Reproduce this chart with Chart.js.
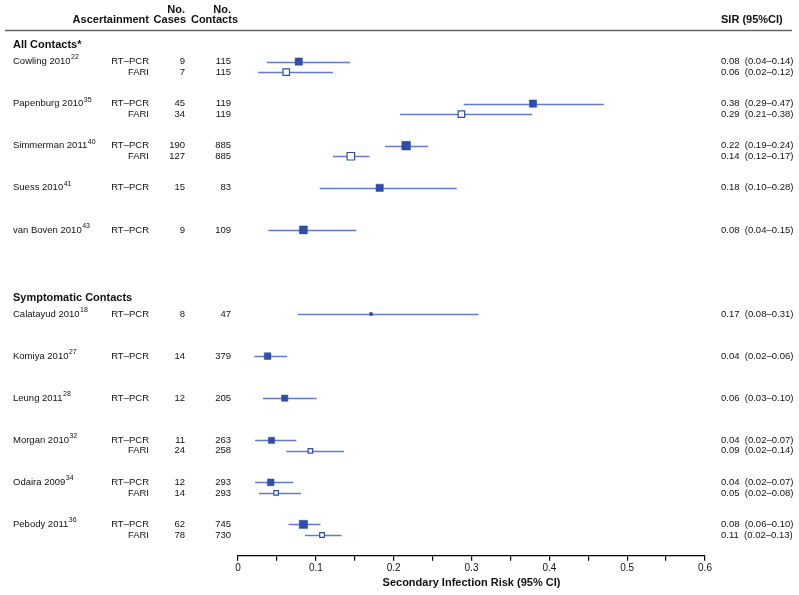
<!DOCTYPE html>
<html>
<head>
<meta charset="utf-8">
<script src="https://cdn.jsdelivr.net/npm/chart.js@4.4.1/dist/chart.umd.min.js"></script>
<style>
  body { margin: 0; background: #fff; }
</style>
</head>
<body>
<canvas id="forest" width="799" height="595"></canvas>
<script>
// Data
let studies = ['Cowling 2010', 'Papenburg 2010', 'Simmerman 2011', 'Suess 2010', 'van Boven 2010',
               'Calatayud 2010', 'Komiya 2010', 'Leung 2011', 'Morgan 2010', 'Odaira 2009', 'Pebody 2011'];
let refs = ['22', '35', '40', '41', '43', '18', '27', '28', '32', '34', '36'];
let groups = ['All Contacts*', 'Symptomatic Contacts'];
let studyGroup = [0, 0, 0, 0, 0, 1, 1, 1, 1, 1, 1];

// one entry per plotted row
let rowStudy = [0, 0, 1, 1, 2, 2, 3, 4, 5, 6, 7, 8, 8, 9, 9, 10, 10];
let methods = ['RT–PCR', 'FARI', 'RT–PCR', 'FARI', 'RT–PCR', 'FARI', 'RT–PCR', 'RT–PCR', 'RT–PCR',
               'RT–PCR', 'RT–PCR', 'RT–PCR', 'FARI', 'RT–PCR', 'FARI', 'RT–PCR', 'FARI'];
let cases = [9, 7, 45, 34, 190, 127, 15, 9, 8, 14, 12, 11, 24, 12, 14, 62, 78];
let contacts = [115, 115, 119, 119, 885, 885, 83, 109, 47, 379, 205, 263, 258, 293, 293, 745, 730];
let sir = [0.078, 0.062, 0.379, 0.287, 0.216, 0.145, 0.182, 0.084, 0.171,
           0.038, 0.060, 0.043, 0.093, 0.042, 0.049, 0.084, 0.108];
let lower = [0.037, 0.026, 0.290, 0.208, 0.189, 0.122, 0.105, 0.039, 0.077,
             0.021, 0.032, 0.022, 0.062, 0.022, 0.027, 0.065, 0.086];
let upper = [0.144, 0.122, 0.470, 0.378, 0.244, 0.169, 0.281, 0.152, 0.309,
             0.063, 0.101, 0.075, 0.136, 0.071, 0.081, 0.106, 0.133];
let sirLabels = ['0.08  (0.04–0.14)', '0.06  (0.02–0.12)', '0.38  (0.29–0.47)', '0.29  (0.21–0.38)',
                 '0.22  (0.19–0.24)', '0.14  (0.12–0.17)', '0.18  (0.10–0.28)', '0.08  (0.04–0.15)',
                 '0.17  (0.08–0.31)', '0.04  (0.02–0.06)', '0.06  (0.03–0.10)', '0.04  (0.02–0.07)',
                 '0.09  (0.02–0.14)', '0.04  (0.02–0.07)', '0.05  (0.02–0.08)', '0.08  (0.06–0.10)',
                 '0.11  (0.02–0.13)'];

// Styles
let FONT = '"Liberation Sans", Arial, Helvetica, sans-serif';
let boxColor = '#2f4ea6';
let ciColor = 'rgba(70, 100, 200, 0.85)';
let boxSide = [7.3, 6.5, 7.3, 6.5, 8.7, 7.5, 7.3, 8, 3, 6.7, 6.3, 6.3, 4.5, 6.7, 4.5, 8.3, 4.7];

// row position: one unit per study, an extra unit between groups, FARI just below RT-PCR
let rowY = rowStudy.map((s, i) => s + studyGroup[s] + (methods[i] === 'FARI' ? 0.25 : 0));

function rowsOf(method) {
  return rowStudy.map((s, i) => i).filter(i => methods[i] === method);
}
let rtRows = rowsOf('RT–PCR');
let fariRows = rowsOf('FARI');

let ciPlugin = {
  id: 'ciLines',
  beforeDatasetsDraw(chart) {
    let ctx = chart.ctx, xs = chart.scales.x, ys = chart.scales.y;
    ctx.save();
    ctx.strokeStyle = ciColor;
    ctx.lineWidth = 1.3;
    for (let i = 0; i < rowY.length; i++) {
      let py = Math.round(ys.getPixelForValue(rowY[i])) + 0.5;
      ctx.beginPath();
      ctx.moveTo(xs.getPixelForValue(lower[i]), py);
      ctx.lineTo(xs.getPixelForValue(upper[i]), py);
      ctx.stroke();
    }
    ctx.restore();
  }
};

let tablePlugin = {
  id: 'table',
  afterDraw(chart) {
    let ctx = chart.ctx, ys = chart.scales.y;
    ctx.save();
    ctx.fillStyle = '#111';
    ctx.textBaseline = 'middle';

    // column headers
    ctx.font = 'bold 11px ' + FONT;
    ctx.textAlign = 'right';
    ctx.fillText('No.', 185, 10);
    ctx.fillText('No.', 231, 10);
    ctx.fillText('Ascertainment', 149, 20);
    ctx.fillText('Cases', 186, 20);
    ctx.fillText('Contacts', 238, 20);
    ctx.textAlign = 'left';
    ctx.fillText('SIR (95%CI)', 721, 20);

    ctx.strokeStyle = '#666';
    ctx.lineWidth = 1.5;
    ctx.beginPath();
    ctx.moveTo(5, 30.5);
    ctx.lineTo(792, 30.5);
    ctx.stroke();

    // group headings
    groups.forEach((g, gi) => {
      let first = studyGroup.indexOf(gi);
      ctx.font = 'bold 11px ' + FONT;
      ctx.textAlign = 'left';
      ctx.fillText(g, 13, ys.getPixelForValue(first + gi - 0.39));
    });

    // rows
    rowY.forEach((v, i) => {
      let py = ys.getPixelForValue(v);
      let s = rowStudy[i];
      ctx.textAlign = 'left';
      if (rowStudy.indexOf(s) === i) {
        ctx.font = '9.5px ' + FONT;
        ctx.fillText(studies[s], 13, py);
        let w = ctx.measureText(studies[s]).width;
        ctx.font = '7px ' + FONT;
        ctx.fillText(refs[s], 13 + w + 0.5, py - 4);
      }
      ctx.font = '9.5px ' + FONT;
      ctx.fillText(sirLabels[i], 721, py);
      ctx.textAlign = 'right';
      ctx.fillText(methods[i], 149, py);
      ctx.fillText(String(cases[i]), 185, py);
      ctx.fillText(String(contacts[i]), 231, py);
    });
    ctx.restore();
  }
};

let ctx = document.getElementById('forest').getContext('2d');

let chart = new Chart(ctx, {
  type: 'scatter',
  data: {
    datasets: [
      {
        label: 'RT–PCR',
        data: rtRows.map(i => ({ x: sir[i], y: rowY[i] })),
        pointStyle: 'rect',
        pointRadius: rtRows.map(i => boxSide[i] / Math.SQRT2),
        pointBackgroundColor: boxColor,
        pointBorderColor: boxColor,
        pointBorderWidth: 0.5
      },
      {
        label: 'FARI',
        data: fariRows.map(i => ({ x: sir[i], y: rowY[i] })),
        pointStyle: 'rect',
        pointRadius: fariRows.map(i => boxSide[i] / Math.SQRT2),
        pointBackgroundColor: '#fff',
        pointBorderColor: boxColor,
        pointBorderWidth: 1.2
      }
    ]
  },
  options: {
    responsive: false,
    animation: false,
    events: [],
    devicePixelRatio: 1,
    layout: { padding: { left: 238, right: 94, top: 30, bottom: 0 } },
    plugins: { legend: { display: false }, tooltip: { enabled: false } },
    scales: {
      x: {
        type: 'linear',
        min: 0,
        max: 0.6,
        border: { display: true, color: '#000', width: 1.2 },
        grid: { drawOnChartArea: false, drawTicks: true, tickLength: 5, color: '#000', lineWidth: 1.2 },
        ticks: {
          stepSize: 0.05,
          autoSkip: false,
          maxRotation: 0,
          padding: 1,
          color: '#111',
          font: { family: FONT, size: 10 },
          callback: v => Math.abs(v * 10 - Math.round(v * 10)) < 1e-6 ? String(+v.toFixed(1)) : ''
        },
        title: {
          display: true,
          text: 'Secondary Infection Risk (95% CI)',
          color: '#111',
          font: { family: FONT, size: 11, weight: 'bold' },
          padding: { top: 2, bottom: 5 }
        }
      },
      y: {
        type: 'linear',
        display: false,
        reverse: true,
        min: -0.75,
        max: 11.745
      }
    }
  },
  plugins: [ciPlugin, tablePlugin]
});
</script>
</body>
</html>
